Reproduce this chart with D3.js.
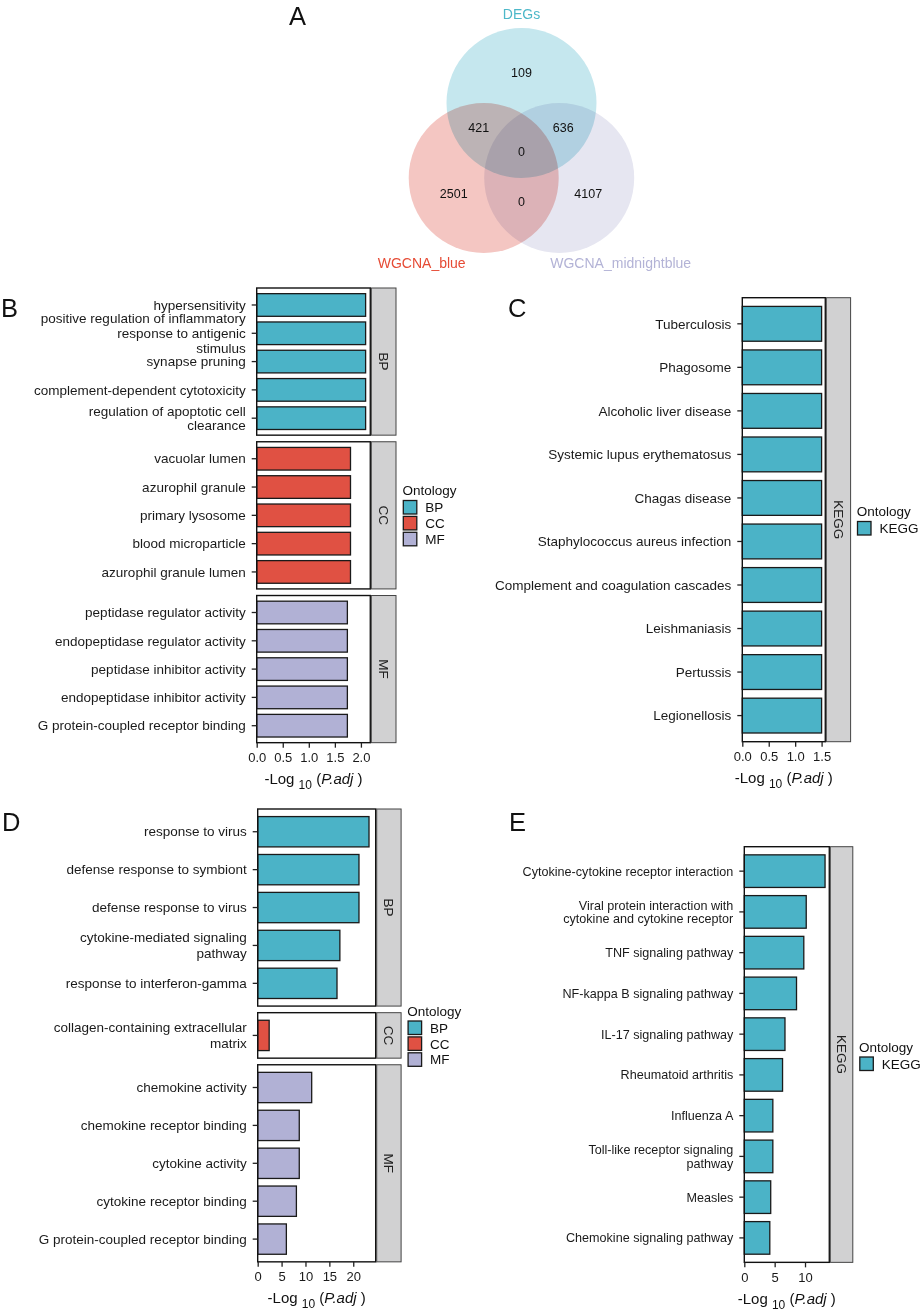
<!DOCTYPE html>
<html><head><meta charset="utf-8">
<script src="https://cdn.jsdelivr.net/npm/d3@7"></script>
<style>
body{margin:0;background:#fff}
svg{display:block;font-family:"Liberation Sans",Arial,sans-serif}
</style>
</head><body>
<svg id="chart" width="920" height="1313"></svg>
<script>
// ---------------- DATA ----------------
// Panel A: Venn
const vennSets = ["DEGs", "WGCNA_blue", "WGCNA_midnightblue"];
const vennRegions = ["DEGs", "DEGs&blue", "DEGs&midnightblue", "all", "blue", "blue&midnightblue", "midnightblue"];
const vennCounts = [109, 421, 636, 0, 2501, 0, 4107];

// Ontology colours
const ontologyNames = ["BP", "CC", "MF", "KEGG"];
const ontologyColors = ["#4bb3c7", "#e05143", "#b1b1d5", "#4bb3c7"];

// Panel B: GO (WGCNA / DEGs overlap 1)
const bBPTerms = ["hypersensitivity", "positive regulation of inflammatory\nresponse to antigenic\nstimulus", "synapse pruning", "complement-dependent cytotoxicity", "regulation of apoptotic cell\nclearance"];
const bBPValues = [2.09, 2.09, 2.09, 2.09, 2.09];
const bCCTerms = ["vacuolar lumen", "azurophil granule", "primary lysosome", "blood microparticle", "azurophil granule lumen"];
const bCCValues = [1.80, 1.80, 1.80, 1.80, 1.80];
const bMFTerms = ["peptidase regulator activity", "endopeptidase regulator activity", "peptidase inhibitor activity", "endopeptidase inhibitor activity", "G protein-coupled receptor binding"];
const bMFValues = [1.74, 1.74, 1.74, 1.74, 1.74];
const bTicks = [0, 0.5, 1.0, 1.5, 2.0];

// Panel C: KEGG
const cTerms = ["Tuberculosis", "Phagosome", "Alcoholic liver disease", "Systemic lupus erythematosus", "Chagas disease", "Staphylococcus aureus infection", "Complement and coagulation cascades", "Leishmaniasis", "Pertussis", "Legionellosis"];
const cValues = [1.50, 1.50, 1.50, 1.50, 1.50, 1.50, 1.50, 1.50, 1.50, 1.50];
const cTicks = [0, 0.5, 1.0, 1.5];

// Panel D: GO
const dBPTerms = ["response to virus", "defense response to symbiont", "defense response to virus", "cytokine-mediated signaling\npathway", "response to interferon-gamma"];
const dBPValues = [23.3, 21.2, 21.2, 17.2, 16.6];
const dCCTerms = ["collagen-containing extracellular\nmatrix"];
const dCCValues = [2.4];
const dMFTerms = ["chemokine activity", "chemokine receptor binding", "cytokine activity", "cytokine receptor binding", "G protein-coupled receptor binding"];
const dMFValues = [11.3, 8.7, 8.7, 8.1, 6.0];
const dTicks = [0, 5, 10, 15, 20];

// Panel E: KEGG
const eTerms = ["Cytokine-cytokine receptor interaction", "Viral protein interaction with\ncytokine and cytokine receptor", "TNF signaling pathway", "NF-kappa B signaling pathway", "IL-17 signaling pathway", "Rheumatoid arthritis", "Influenza A", "Toll-like receptor signaling\npathway", "Measles", "Chemokine signaling pathway"];
const eValues = [13.3, 10.2, 9.8, 8.6, 6.7, 6.3, 4.7, 4.7, 4.35, 4.2];
const eTicks = [0, 5, 10];

// ---------------- DRAW ----------------
const svg = d3.select("#chart");
const colorOf = d3.scaleOrdinal().domain(ontologyNames).range(ontologyColors);

// Panel letters
const letters = [["A", 289, 25], ["B", 1, 316.5], ["C", 508, 317], ["D", 2, 831], ["E", 509, 831]];
svg.selectAll("text.letter").data(letters).join("text").attr("class", "letter")
  .attr("x", d => d[1]).attr("y", d => d[2]).attr("font-size", 25.5).attr("fill", "#111").text(d => d[0]);

// ---- Venn ----
(function venn() {
  const g = svg.append("g").style("isolation", "isolate");
  const r = 75;
  const circles = [
    {name: vennSets[0], cx: 521.5, cy: 103, fill: "#c5e7ee", text: "#4db8c9", lx: 521.5, ly: 18.5},
    {name: vennSets[1], cx: 483.7, cy: 178, fill: "#f4c6c2", text: "#e64b35", lx: 421.7, ly: 268},
    {name: vennSets[2], cx: 559.2, cy: 178, fill: "#e6e6f1", text: "#b3b3d6", lx: 620.7, ly: 268}
  ];
  g.selectAll("circle").data(circles).join("circle")
    .attr("cx", d => d.cx).attr("cy", d => d.cy).attr("r", r)
    .attr("fill", d => d.fill).style("mix-blend-mode", "multiply");
  svg.selectAll("text.vset").data(circles).join("text").attr("class", "vset")
    .attr("x", d => d.lx).attr("y", d => d.ly).attr("text-anchor", "middle")
    .attr("font-size", 14).attr("fill", d => d.text).text(d => d.name);
  // region label anchor offsets from the three circle centres
  const c0 = circles[0], c1 = circles[1], c2 = circles[2];
  const regionPos = {
    "DEGs": [c0.cx, c0.cy - 30],
    "DEGs&blue": [c1.cx - 5, c0.cy + 25],
    "DEGs&midnightblue": [c2.cx + 4, c0.cy + 25],
    "all": [c0.cx, c0.cy + 49],
    "blue": [c1.cx - 30, c1.cy + 16],
    "blue&midnightblue": [c0.cx, c1.cy + 24],
    "midnightblue": [c2.cx + 29, c2.cy + 16]
  };
  svg.selectAll("text.vnum").data(vennRegions.map((k, i) => ({k, v: vennCounts[i]}))).join("text")
    .attr("class", "vnum")
    .attr("x", d => regionPos[d.k][0]).attr("y", d => regionPos[d.k][1])
    .attr("dy", "0.35em").attr("text-anchor", "middle").attr("font-size", 12.5).attr("fill", "#111")
    .text(d => d.v);
})();

// ---- Enrichment bar panel ----
function enrichPanel(cfg) {
  const g = svg.append("g");
  const x = d3.scaleLinear().domain([0, cfg.xmax]).range([cfg.left, cfg.right]);
  let y0 = cfg.top;
  let bottom = 0;
  cfg.facets.forEach((f, fi) => {
    const h = (f.terms.length + 0.2) * cfg.step;
    const y = d3.scaleBand().domain(f.terms).range([y0, y0 + h]).paddingInner(0.2).paddingOuter(0.2);
    const pg = g.append("g");
    pg.append("rect").attr("x", cfg.left).attr("y", y0).attr("width", cfg.right - cfg.left).attr("height", h)
      .attr("fill", "#fff");
    pg.selectAll("rect.bar").data(f.terms.map((t, i) => ({t, v: f.values[i]}))).join("rect").attr("class", "bar")
      .attr("x", x(0)).attr("y", d => y(d.t)).attr("width", d => x(d.v) - x(0)).attr("height", y.bandwidth())
      .attr("fill", colorOf(f.name)).attr("stroke", "#1a1a1a").attr("stroke-width", 1.3);
    pg.append("rect").attr("x", cfg.left).attr("y", y0).attr("width", cfg.right - cfg.left).attr("height", h)
      .attr("fill", "none").attr("stroke", "#111").attr("stroke-width", 1.4);
    // y axis
    const ax = pg.append("g").attr("transform", `translate(${cfg.left},0)`)
      .call(d3.axisLeft(y).tickSize(5).tickPadding(6));
    ax.select(".domain").remove();
    ax.selectAll(".tick line").attr("stroke", "#222").attr("stroke-width", 1.3);
    ax.selectAll(".tick text").attr("font-size", cfg.font).attr("fill", "#1a1a1a")
      .attr("font-family", '"Liberation Sans",Arial,sans-serif')
      .each(function(d) {
        const lines = d.split("\n");
        const t = d3.select(this);
        const xx = t.attr("x");
        t.text(null).attr("dy", null);
        lines.forEach((ln, i) => {
          t.append("tspan").attr("x", xx)
            .attr("y", (i - (lines.length - 1) / 2) * cfg.lineH)
            .attr("dy", "0.35em").text(ln);
        });
      });
    // strip
    const sx = cfg.right + 1;
    pg.append("rect").attr("x", sx).attr("y", y0).attr("width", cfg.stripW).attr("height", h)
      .attr("fill", "#d1d1d2").attr("stroke", "#444").attr("stroke-width", 1);
    pg.append("text").attr("transform", `translate(${sx + cfg.stripW / 2},${y0 + h / 2}) rotate(90)`)
      .attr("text-anchor", "middle").attr("dy", "0.35em").attr("font-size", 13.5).attr("fill", "#222")
      .text(f.name);
    bottom = y0 + h;
    y0 = y0 + h + cfg.gap;
  });
  // x axis
  const xa = g.append("g").attr("transform", `translate(0,${bottom})`)
    .call(d3.axisBottom(x).tickValues(cfg.ticks).tickFormat(d3.format(cfg.fmt)).tickSize(5).tickPadding(5));
  xa.select(".domain").remove();
  xa.selectAll(".tick line").attr("stroke", "#222").attr("stroke-width", 1.3);
  xa.selectAll(".tick text").attr("font-size", 13).attr("fill", "#1a1a1a")
    .attr("font-family", '"Liberation Sans",Arial,sans-serif');
  // x title
  const tt = g.append("text").attr("x", (cfg.left + cfg.right) / 2).attr("y", bottom + 41.5)
    .attr("text-anchor", "middle").attr("font-size", 15).attr("fill", "#111");
  tt.append("tspan").text("-Log ");
  tt.append("tspan").attr("font-size", 12).attr("dy", 5).text("10");
  tt.append("tspan").attr("dy", -5).text(" (");
  tt.append("tspan").attr("font-style", "italic").text("P.adj");
  tt.append("tspan").text(" )");
  // legend
  const L = cfg.legend;
  g.append("text").attr("x", L.x).attr("y", L.y).attr("font-size", 13.5).attr("fill", "#111").text("Ontology");
  const items = L.keys;
  const lg = g.selectAll("g.key").data(items).join("g").attr("class", "key")
    .attr("transform", (d, i) => `translate(${L.x + 0.8},${L.y + 5.5 + i * 15.9})`);
  lg.append("rect").attr("width", 13.5).attr("height", 13.5).attr("fill", d => colorOf(d))
    .attr("stroke", "#1a1a1a").attr("stroke-width", 1.3);
  lg.append("text").attr("x", 22).attr("y", 6.9).attr("dy", "0.35em").attr("font-size", 13.5)
    .attr("fill", "#111").text(d => d);
}

enrichPanel({
  facets: [{name: "BP", terms: bBPTerms, values: bBPValues},
           {name: "CC", terms: bCCTerms, values: bCCValues},
           {name: "MF", terms: bMFTerms, values: bMFValues}],
  left: 256.7, right: 370.3, top: 288, step: 28.3, gap: 6.6, xmax: 2.18,
  ticks: bTicks, fmt: ".1f", stripW: 24.7, font: 13.5, lineH: 14.7,
  legend: {x: 402.5, y: 495, keys: ["BP", "CC", "MF"]}
});

enrichPanel({
  facets: [{name: "KEGG", terms: cTerms, values: cValues}],
  left: 742.3, right: 825.3, top: 297.7, step: 43.53, gap: 0, xmax: 1.57,
  ticks: cTicks, fmt: ".1f", stripW: 24.3, font: 13.5, lineH: 14.7,
  legend: {x: 856.7, y: 516, keys: ["KEGG"]}
});

enrichPanel({
  facets: [{name: "BP", terms: dBPTerms, values: dBPValues},
           {name: "CC", terms: dCCTerms, values: dCCValues},
           {name: "MF", terms: dMFTerms, values: dMFValues}],
  left: 257.7, right: 375.7, top: 809, step: 37.9, gap: 6.6, xmax: 24.7,
  ticks: dTicks, fmt: "d", stripW: 24.4, font: 13.5, lineH: 15.5,
  legend: {x: 407.3, y: 1015.5, keys: ["BP", "CC", "MF"]}
});

enrichPanel({
  facets: [{name: "KEGG", terms: eTerms, values: eValues}],
  left: 744.3, right: 829.3, top: 846.7, step: 40.75, gap: 0, xmax: 14.0,
  ticks: eTicks, fmt: "d", stripW: 22.5, font: 12.6, lineH: 13.5,
  legend: {x: 859, y: 1051.5, keys: ["KEGG"]}
});
</script>
</body></html>
